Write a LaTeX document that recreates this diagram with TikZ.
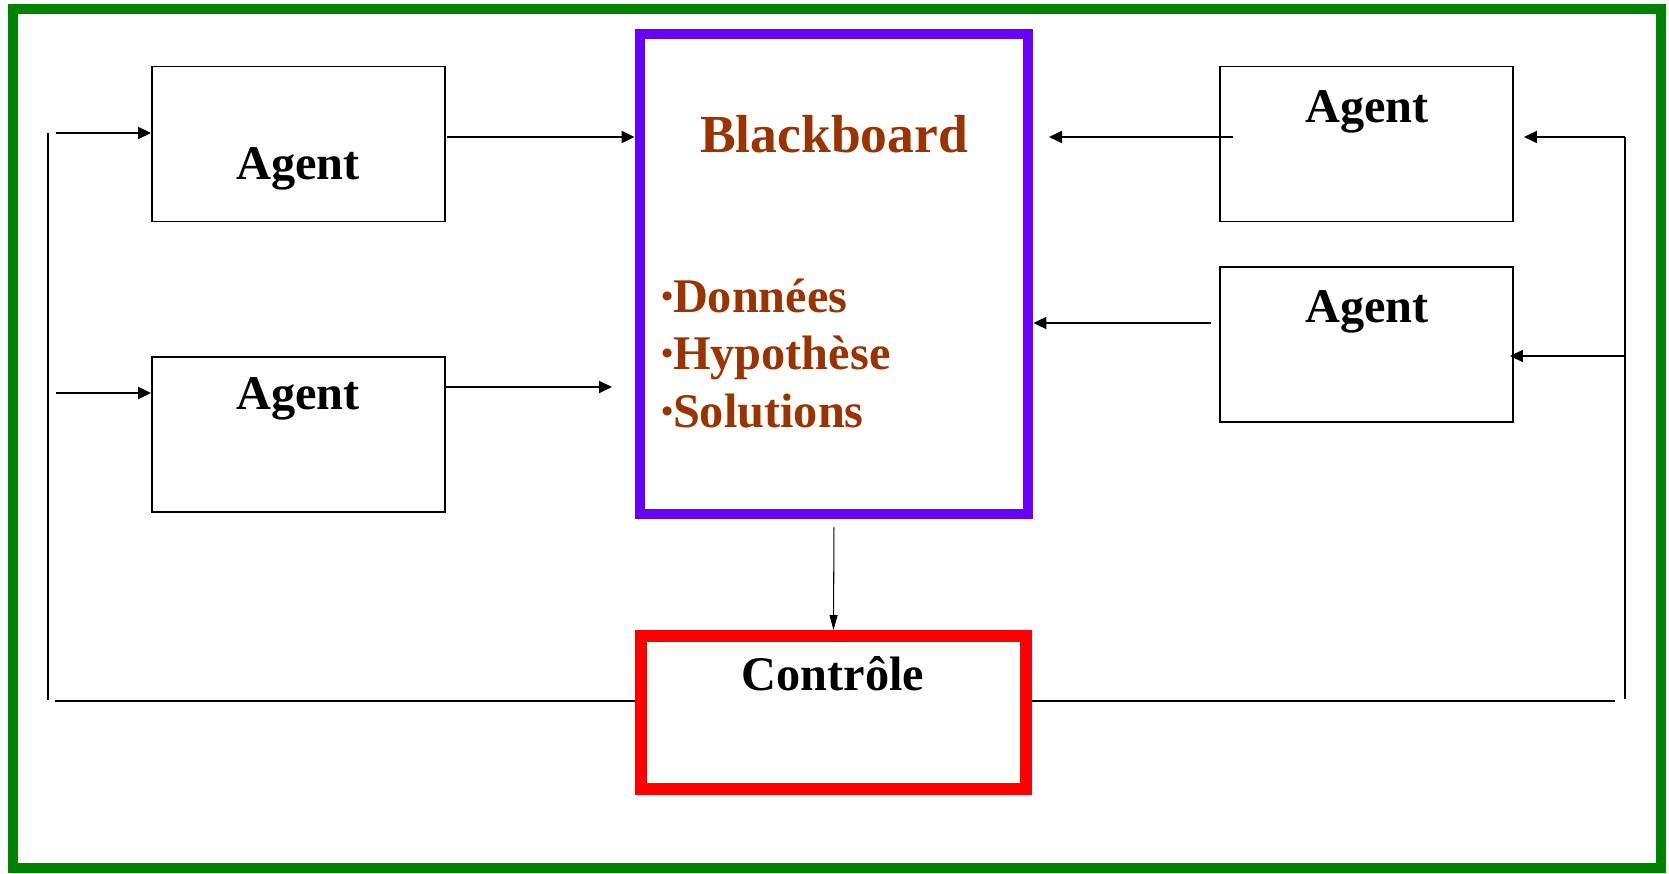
\documentclass[tikz,border=0pt]{standalone}
\usepackage{fontspec}
\setmainfont{Liberation Serif}
\usetikzlibrary{arrows.meta,positioning}
\definecolor{vertcadre}{HTML}{008000}
\definecolor{violetbb}{HTML}{6600FF}
\definecolor{rougectrl}{HTML}{FF0000}
\definecolor{brunbb}{HTML}{993300}
\newcommand{\puce}{{\fontsize{19}{19}\selectfont\raisebox{3.2pt}{\textbullet}}}
\tikzset{
  agent/.style={draw, line width=1.1pt, minimum width=5.86cm, minimum height=3.1cm, inner sep=0pt},
  texte/.style={font=\bfseries\fontsize{27.5}{33}\selectfont, inner sep=0pt},
  textebb/.style={texte, text=brunbb},
  lien/.style={line width=1.1pt},
  fleche/.style={lien, -{Triangle[length=0.26cm,width=0.24cm]}},
}
\begin{document}
\begin{tikzpicture}[x=0.02cm, y=-0.02cm]
        \useasboundingbox (0,0) rectangle (1669,874);

        % cadre vert
        \draw[vertcadre, line width=5.7pt] (13,9) rectangle (1661,868);

        % dessin des agents
        \draw (298.5,144) node[agent] (agent1) {};
        \draw (298.5,434.5) node[agent] (agent2) {};
        \draw (1366.5,144) node[agent] (agent3) {};
        \draw (1366.5,344.5) node[agent] (agent4) {};

        \draw (298,180) node[texte, anchor=base] (tagent1) {Agent};
        \draw (298,410) node[texte, anchor=base] (tagent2) {Agent};
        \draw (1367,123) node[texte, anchor=base] (tagent3) {Agent};
        \draw (1367,323) node[texte, anchor=base] (tagent4) {Agent};

        % le blackboard
        \draw (834,274) node[draw=violetbb, line width=6.2pt, minimum width=7.76cm, minimum height=9.6cm] (bb) {};
        \draw (834,153) node[textebb, anchor=base, font=\bfseries\fontsize{30.5}{36}\selectfont] (tbb) {Blackboard};
        \draw (661,313) node[textebb, anchor=base west] (tdonnees) {\puce Données};
        \draw (661,370) node[textebb, anchor=base west] (thypo) {\puce Hypothèse};
        \draw (661,428) node[textebb, anchor=base west] (tsol) {\puce Solutions};

        % le controle
        \draw (833.5,712.5) node[draw=rougectrl, line width=6.8pt, minimum width=7.7cm, minimum height=3.06cm] (ctrl) {};
        \draw (833,690) node[texte, anchor=base] (tctrl) {Contrôle};

        % points de passage
        \coordinate (gaucheH) at (48,133);
        \coordinate (gaucheB) at (48,700);
        \coordinate (depG1) at (56,133);
        \coordinate (depG2) at (56,393);
        \coordinate (dep1) at (447,137);
        \coordinate (fin2) at (612,387);
        \coordinate (dep3) at (1233,137);
        \coordinate (fin3) at (1049,137);
        \coordinate (dep4) at (1211,323);
        \coordinate (droiteH) at (1625,137);
        \coordinate (droite4) at (1625,356);
        \coordinate (droiteB) at (1625,699);
        \coordinate (basG) at (55,701);
        \coordinate (basD) at (1615,701);

        % liens agents gauche
        \draw[lien] (gaucheH) -- (gaucheB);
        \draw[fleche] (depG1) -- (depG1 -| agent1.west);
        \draw[fleche] (depG2) -- (depG2 -| agent2.west);
        \draw[fleche] (dep1) -- (dep1 -| bb.west);
        \draw[fleche] (agent2.east |- fin2) -- (fin2);

        % liens agents droite
        \draw[fleche] (dep3) -- (fin3);
        \draw[fleche] (dep4) -- (dep4 -| bb.east);
        \draw[lien] (droiteH) -- (droiteB);
        \draw[fleche, shorten >=0.2cm] (droiteH) -- (droiteH -| agent3.east);
        \draw[fleche, shorten >=-0.08cm] (droite4) -- (droite4 -| agent4.east);

        % blackboard vers controle
        \draw[line width=0.6pt, -{Triangle[length=0.3cm,width=0.16cm]}, shorten <=0.16cm] (bb.south) -- (ctrl.north);

        % retour du controle
        \draw[lien] (basG) -- (basG -| ctrl.west);
        \draw[lien] (basD -| ctrl.east) -- (basD);
    \end{tikzpicture}
\end{document}
